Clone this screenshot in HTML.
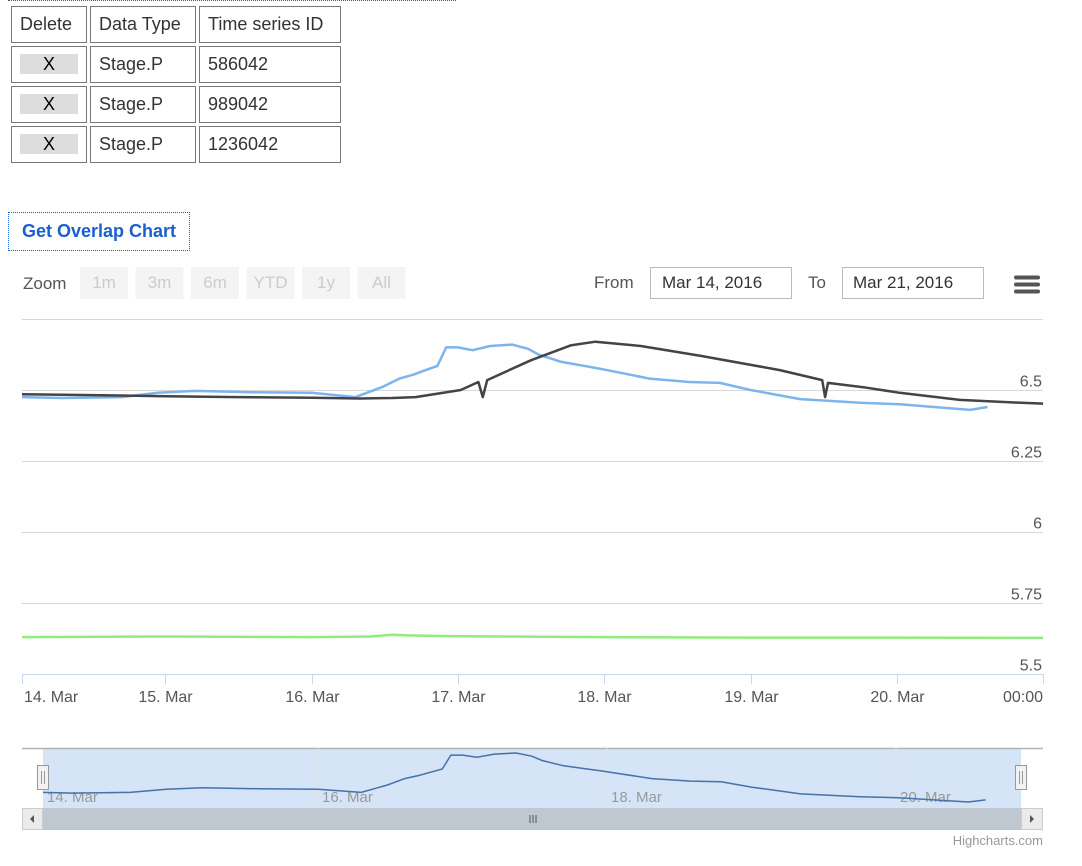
<!DOCTYPE html>
<html><head><meta charset="utf-8"><style>
body{margin:0;width:1082px;height:866px;background:#fff;font-family:"Liberation Sans",sans-serif;position:relative;overflow:hidden}
.topline{position:absolute;left:8px;top:0;width:448px;border-top:1px dotted #555}
table{position:absolute;left:8px;top:3px;border-collapse:separate;border-spacing:3px}
td{border:1px solid #777;height:35px;padding:0 8px;font-size:18px;color:#333}
.x{display:inline-block;width:58px;height:20px;background:#ddd;text-align:center;line-height:20px;font-size:18px;color:#000}
.btn{position:absolute;left:8px;top:212px;width:180px;height:37px;border:1px dotted #1a5fd0;color:#1a5fd0;font-weight:bold;font-size:18px;line-height:37px;text-align:center}
svg{position:absolute;left:0;top:0}
svg text{font-family:"Liberation Sans",sans-serif}
</style></head><body>
<div class="topline"></div>
<table>
<tr><td>Delete</td><td style="width:88px">Data Type</td><td style="width:124px">Time series ID</td></tr>
<tr><td><span class="x">X</span></td><td>Stage.P</td><td>586042</td></tr>
<tr><td><span class="x">X</span></td><td>Stage.P</td><td>989042</td></tr>
<tr><td><span class="x">X</span></td><td>Stage.P</td><td>1236042</td></tr>
</table>
<div class="btn">Get Overlap Chart</div>
<svg id="c" width="1082" height="866"></svg>
<script>
const yTicks=[5.5,5.75,6,6.25,6.5,6.75];
const xTickDays=[0,1,2,3,4,5,6,7];
const xTickLabels=["14. Mar","15. Mar","16. Mar","17. Mar","18. Mar","19. Mar","20. Mar","00:00"];
const navTickDays=[0,2,4,6];
const navTickLabels=["14. Mar","16. Mar","18. Mar","20. Mar"];
const blueDays=[0.02,0.3,0.7,0.95,1.2,1.6,2.0,2.3,2.48,2.6,2.7,2.78,2.86,2.92,3.0,3.1,3.22,3.37,3.48,3.55,3.7,3.97,4.31,4.58,4.79,5.0,5.34,5.75,6.02,6.5,6.62];
const blueVals=[6.475,6.472,6.475,6.49,6.497,6.492,6.49,6.475,6.51,6.54,6.555,6.57,6.585,6.65,6.65,6.64,6.655,6.66,6.645,6.625,6.6,6.575,6.54,6.528,6.525,6.5,6.468,6.455,6.45,6.43,6.44];
const blackDays=[0.02,0.5,1.0,1.5,2.0,2.33,2.55,2.71,3.02,3.14,3.17,3.2,3.5,3.77,3.94,4.25,4.66,5.2,5.49,5.51,5.53,5.77,6.02,6.43,6.85,7.0];
const blackVals=[6.485,6.482,6.478,6.475,6.473,6.47,6.472,6.475,6.5,6.528,6.475,6.535,6.605,6.657,6.67,6.655,6.62,6.57,6.535,6.475,6.525,6.51,6.49,6.465,6.455,6.452];
const greenDays=[0,1,2,2.4,2.55,2.65,3.0,4.0,5.0,6.0,7.0];
const greenVals=[5.63,5.632,5.63,5.632,5.638,5.636,5.633,5.63,5.628,5.628,5.627];
const svg=document.getElementById('c');const NS='http://www.w3.org/2000/svg';
function mk(t,a,txt){const e=document.createElementNS(NS,t);for(const k in a)e.setAttribute(k,a[k]);if(txt!=null)e.textContent=txt;svg.appendChild(e);return e;}
const X0=22,X1=1043,T=319,B=674;
const xs=d=>Math.max(X0,19+d*146.3);
const ys=v=>674-(v-5.5)/1.25*355;
let t=mk('text',{x:23,y:289,'font-size':17,fill:'#555'},'Zoom');


const rb=["1m","3m","6m","YTD","1y","All"];
rb.forEach((s,i)=>{const x=80+i*55.5;
let r=mk('rect',{x:x,y:267,width:48,height:32,fill:'#f4f4f4'});


mk('text',{x:x+24,y:288,'font-size':17,fill:'#ccc','text-anchor':'middle'},s);});
mk('text',{x:594,y:288,'font-size':17,fill:'#555'},'From');
let fi=mk('rect',{x:650.5,y:267.5,width:141,height:31,fill:'#fff',stroke:'#bbb'});


mk('text',{x:662,y:288,'font-size':17,fill:'#333'},'Mar 14, 2016');
mk('text',{x:808,y:288,'font-size':17,fill:'#555'},'To');
let ti=mk('rect',{x:842.5,y:267.5,width:141,height:31,fill:'#fff',stroke:'#bbb'});


mk('text',{x:853,y:288,'font-size':17,fill:'#333'},'Mar 21, 2016');
[277,284,291].forEach(y=>{let m=mk('rect',{x:1014,y:y-1.5,width:26,height:4,rx:2,fill:'#555'});

});
yTicks.forEach(v=>{let y=Math.round(ys(v))+0.5;
let g=mk('line',{x1:X0,x2:X1,y1:y,y2:y,stroke:'#d8d8d8'});


if(v<6.75){let l=mk('text',{x:1042,y:y-4,'font-size':16,fill:'#555','text-anchor':'end'},String(v));

}});
mk('line',{x1:X0,x2:X1,y1:674.5,y2:674.5,stroke:'#ccd6eb'});
xTickDays.forEach((d,i)=>{let x=Math.round(xs(d))+0.5;
mk('line',{x1:x,x2:x,y1:674,y2:684,stroke:'#ccd6eb'});
let l=mk('text',{x:i==0?24:(i==7?1043:x),y:702,'font-size':16,fill:'#555','text-anchor':i==0?'start':(i==7?'end':'middle')},xTickLabels[i]);

});
function line(days,vals,col,name){let p=days.map((d,i)=>(i?'L':'M')+xs(d).toFixed(1)+','+ys(vals[i]).toFixed(1)).join('');
let e=mk('path',{d:p,fill:'none',stroke:col,'stroke-width':2.5,'stroke-linejoin':'round'});

}
line(greenDays,greenVals,'#90ed7d','series-1236042-line');
line(blueDays,blueVals,'#7cb5ec','series-586042-line');
line(blackDays,blackVals,'#434348','series-989042-line');
const NX0=43,NX1=1021,NT=748,NB=808;
const nxs=d=>Math.max(NX0,29+d*144.5);
const bmax=Math.max(...blueVals),bmin=Math.min(...blueVals);
const nys=v=>753+(bmax-v)/(bmax-bmin)*49;
let bg=mk('rect',{x:NX0,y:NT,width:NX1-NX0,height:NB-NT,fill:'#d6e4f7'});


mk('line',{x1:22,x2:1043,y1:748.5,y2:748.5,stroke:'#b3b3b3','stroke-width':1.5});
navTickDays.forEach((d,i)=>{let x=29+d*144.5;
if(d>0)mk('line',{x1:x,x2:x,y1:NT,y2:NB,stroke:'#e3e3e3'});
mk('text',{x:(d==0?NX0:x)+4,y:802,'font-size':15,fill:'#999'},navTickLabels[i]);});
let np=blueDays.map((d,i)=>(i?'L':'M')+nxs(d).toFixed(1)+','+nys(blueVals[i]).toFixed(1)).join('');
let ns=mk('path',{d:np,fill:'none',stroke:'#4572a7','stroke-width':1.5});


[NX0,NX1].forEach(x=>{let h=mk('rect',{x:x-5.5,y:765.5,width:11,height:24,fill:'#f2f2f2',stroke:'#999'});


mk('line',{x1:x-1.5,x2:x-1.5,y1:771,y2:784,stroke:'#999'});mk('line',{x1:x+1.5,x2:x+1.5,y1:771,y2:784,stroke:'#999'});});
mk('rect',{x:22,y:808,width:1021,height:22,fill:'#f2f2f2'});
let sb=mk('rect',{x:NX0,y:808,width:NX1-NX0,height:22,fill:'#bfc8d1'});


[530,533,536].forEach(x=>mk('line',{x1:x,x2:x,y1:815,y2:823,stroke:'#555'}));
let la=mk('rect',{x:22.5,y:808.5,width:20,height:21,fill:'#ebebeb',stroke:'#ccc'});


mk('path',{d:'M34,815 L30,819 L34,823Z',fill:'#555'});
let ra=mk('rect',{x:1021.5,y:808.5,width:21,height:21,fill:'#ebebeb',stroke:'#ccc'});


mk('path',{d:'M1030,815 L1034,819 L1030,823Z',fill:'#555'});
let cr=mk('text',{x:1043,y:845,'font-size':13,fill:'#999','text-anchor':'end'},'Highcharts.com');


</script>
</body></html>
